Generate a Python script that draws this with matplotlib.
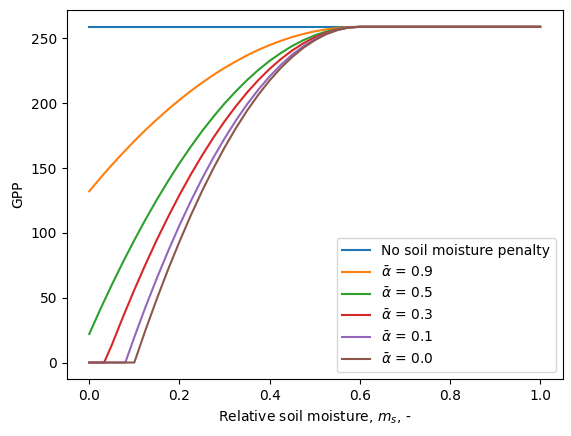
import matplotlib
matplotlib.use("Agg")
import matplotlib.pyplot as plt

# relative soil moisture sample points and GPP
ms_flat = [0.0, 1.0]
gpp_flat = [259, 259]

ms_a09 = [0.0, 0.025, 0.05, 0.075, 0.1, 0.125, 0.15, 0.175, 0.2, 0.225, 0.25, 0.275, 0.3,
          0.325, 0.35, 0.375, 0.4, 0.425, 0.45, 0.475, 0.5, 0.525, 0.55, 0.575, 0.6, 1.0]
gpp_a09 = [132.1, 142.5, 152.4, 161.8, 170.9, 179.5, 187.6, 195.3, 202.6, 209.4, 215.8, 221.8, 227.3,
           232.3, 237.0, 241.2, 244.9, 248.2, 251.1, 253.5, 255.5, 257.0, 258.1, 258.8, 259, 259]

ms_a05 = [0.0, 0.025, 0.05, 0.075, 0.1, 0.125, 0.15, 0.175, 0.2, 0.225, 0.25, 0.275, 0.3,
          0.325, 0.35, 0.375, 0.4, 0.425, 0.45, 0.475, 0.5, 0.525, 0.55, 0.575, 0.6, 1.0]
gpp_a05 = [22.0, 41.4, 59.9, 77.6, 94.4, 110.5, 125.7, 140.1, 153.7, 166.4, 178.4, 189.5, 199.8,
           209.2, 217.9, 225.7, 232.7, 238.8, 244.2, 248.7, 252.4, 255.3, 257.4, 258.6, 259, 259]

ms_a03 = [0.0, 0.033, 0.05, 0.075, 0.1, 0.125, 0.15, 0.175, 0.2, 0.225, 0.25, 0.275, 0.3,
          0.325, 0.35, 0.375, 0.4, 0.425, 0.45, 0.475, 0.5, 0.525, 0.55, 0.575, 0.6, 1.0]
gpp_a03 = [0, 0, 13.5, 35.3, 56.1, 75.9, 94.7, 112.4, 129.2, 144.9, 159.6, 173.3, 186.0,
           197.6, 208.3, 217.9, 226.5, 234.1, 240.7, 246.3, 250.9, 254.4, 257.0, 258.5, 259, 259]

ms_a01 = [0.0, 0.08, 0.1, 0.125, 0.15, 0.175, 0.2, 0.225, 0.25, 0.275, 0.3,
          0.325, 0.35, 0.375, 0.4, 0.425, 0.45, 0.475, 0.5, 0.525, 0.55, 0.575, 0.6, 1.0]
gpp_a01 = [0, 0, 19.6, 43.0, 65.1, 86.0, 105.8, 124.3, 141.7, 157.9, 172.8,
           186.6, 199.2, 210.5, 220.7, 229.7, 237.5, 244.0, 249.4, 253.6, 256.6, 258.4, 259, 259]

ms_a00 = [0.0, 0.1, 0.125, 0.15, 0.175, 0.2, 0.225, 0.25, 0.275, 0.3,
          0.325, 0.35, 0.375, 0.4, 0.425, 0.45, 0.475, 0.5, 0.525, 0.55, 0.575, 0.6, 1.0]
gpp_a00 = [0, 0, 25.3, 49.2, 71.9, 93.2, 113.3, 132.1, 149.6, 165.8,
           180.7, 194.3, 206.6, 217.6, 227.3, 235.7, 242.8, 248.6, 253.2, 256.4, 258.4, 259, 259]

series = [
    (ms_flat, gpp_flat, "No soil moisture penalty"),
    (ms_a09, gpp_a09, r"$\bar{\alpha}$ = 0.9"),
    (ms_a05, gpp_a05, r"$\bar{\alpha}$ = 0.5"),
    (ms_a03, gpp_a03, r"$\bar{\alpha}$ = 0.3"),
    (ms_a01, gpp_a01, r"$\bar{\alpha}$ = 0.1"),
    (ms_a00, gpp_a00, r"$\bar{\alpha}$ = 0.0"),
]

fig = plt.figure(figsize=(5.71, 4.36), dpi=100)
ax = fig.add_axes([0.1168, 0.130, 0.8686, 0.847])

for x, y, label in series:
    ax.plot(x, y, label=label)

ax.set_xlabel(r"Relative soil moisture, $m_s$, -")
ax.set_ylabel("GPP")
ax.legend(loc="lower right")

fig.savefig("out.png", dpi=100)
